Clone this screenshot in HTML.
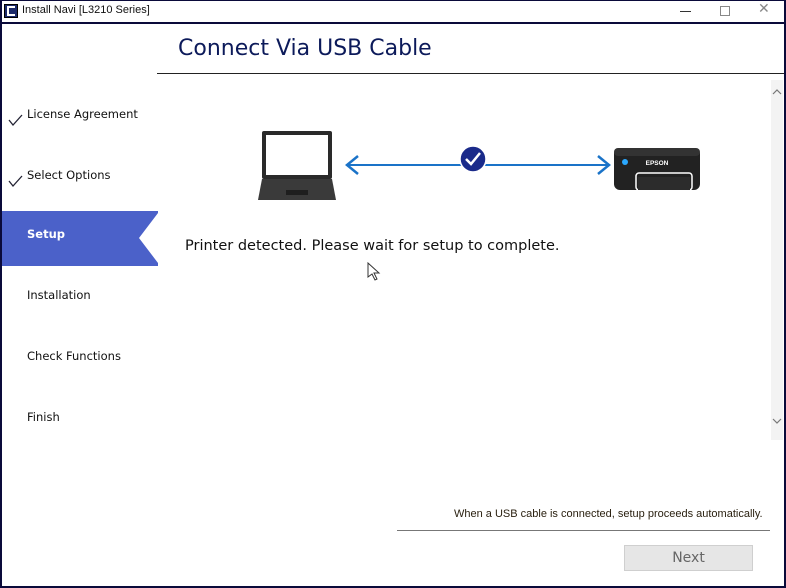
<!DOCTYPE html>
<html><head><meta charset="utf-8"><style>
*{margin:0;padding:0;box-sizing:border-box}
body{width:786px;height:588px;overflow:hidden;background:#fff;font-family:"DejaVu Sans","Liberation Sans",sans-serif;position:relative}
.abs{position:absolute}
.side{font-size:11.5px;color:#111;left:27px}
</style></head><body>
<div class="abs" style="left:0;top:0;width:786px;height:588px;border:2px solid #0a0a3a;border-top:1px solid #0a0a3a"></div>
<div class="abs" style="left:4px;top:4px;width:14px;height:14px;background:#1c2a6a;border:1px solid #000"></div>
<div class="abs" style="left:7px;top:6px;width:8px;height:10px;border:2px solid #fff;border-right:none"></div>
<div class="abs" style="left:22px;top:4px;font-size:11px;color:#111;font-family:'Liberation Sans',sans-serif">Install Navi [L3210 Series]</div>
<div class="abs" style="left:680px;top:11px;width:11px;height:1px;background:#333"></div>
<div class="abs" style="left:720px;top:6px;width:10px;height:10px;border:1px solid #888"></div>
<div class="abs" style="left:758px;top:1px;font-size:14px;color:#888">✕</div>
<div class="abs" style="left:2px;top:22px;width:782px;height:2px;background:#0a0a3a"></div>
<div class="abs" style="left:178px;top:36px;font-size:22px;color:#0c1a5a">Connect Via USB Cable</div>
<div class="abs" style="left:157px;top:73px;width:627px;height:1px;background:#222"></div>
<svg class="abs" style="left:8px;top:112px" width="16" height="16"><polyline points="1,8 5,13 14,3" fill="none" stroke="#223" stroke-width="1.3"/></svg>
<div class="abs side" style="top:107px">License Agreement</div>
<svg class="abs" style="left:8px;top:173px" width="16" height="16"><polyline points="1,8 5,13 14,3" fill="none" stroke="#223" stroke-width="1.3"/></svg>
<div class="abs side" style="top:168px">Select Options</div>
<svg class="abs" style="left:2px;top:211px" width="156" height="55"><polygon points="0,0 156,0 156,2 137,27 156,52 156,55 0,55" fill="#4b61c9"/></svg>
<div class="abs side" style="top:227px;color:#fff;font-weight:bold">Setup</div>
<div class="abs side" style="top:288px">Installation</div>
<div class="abs side" style="top:349px">Check Functions</div>
<div class="abs side" style="top:410px">Finish</div>
<div class="abs" style="left:771px;top:80px;width:12px;height:360px;background:#f3f3f3"></div>
<svg class="abs" style="left:772px;top:88px" width="10" height="8"><polyline points="1,6 5,2 9,6" fill="none" stroke="#777" stroke-width="1.2"/></svg>
<svg class="abs" style="left:772px;top:417px" width="10" height="8"><polyline points="1,2 5,6 9,2" fill="none" stroke="#777" stroke-width="1.2"/></svg>
<svg class="abs" style="left:258px;top:130px" width="80" height="72">
<rect x="4" y="1" width="70" height="48" rx="2" fill="#2a2a2a"/>
<rect x="8" y="5" width="62" height="40" fill="#fff"/>
<polygon points="4,49 74,49 78,70 0,70" fill="#3a3a3a"/>
<rect x="28" y="60" width="22" height="5" fill="#1e1e1e"/>
</svg>
<svg class="abs" style="left:340px;top:140px" width="280" height="40">
<line x1="8" y1="25" x2="268" y2="25" stroke="#1a73c8" stroke-width="2"/>
<polyline points="18,16 7,25 18,34" fill="none" stroke="#1a73c8" stroke-width="2.5"/>
<polyline points="258,16 269,25 258,34" fill="none" stroke="#1a73c8" stroke-width="2.5"/>
<circle cx="133" cy="19" r="13" fill="#1a2a8a" stroke="#fff" stroke-width="1.5"/>
<polyline points="126,19 131,24 140,13" fill="none" stroke="#fff" stroke-width="2.5"/>
</svg>
<svg class="abs" style="left:612px;top:146px" width="90" height="46">
<rect x="2" y="2" width="86" height="42" rx="6" fill="#222"/>
<rect x="2" y="2" width="86" height="8" rx="4" fill="#333"/>
<circle cx="13" cy="16" r="3" fill="#2aa8ff"/>
<text x="45" y="19" font-size="6.5" fill="#fff" font-weight="bold" text-anchor="middle" font-family="Liberation Sans,sans-serif">EPSON</text>
<rect x="24" y="27" width="56" height="17" rx="3" fill="none" stroke="#fff" stroke-width="1.5"/>
<rect x="26" y="31" width="52" height="13" fill="#2c2c2c"/>
</svg>
<div class="abs" style="left:185px;top:238px;font-size:14.5px;color:#111">Printer detected. Please wait for setup to complete.</div>
<svg class="abs" style="left:367px;top:262px" width="14" height="20"><polygon points="1,1 1,15 5,12 8,18 10,17 7,11 12,11" fill="#fff" stroke="#333" stroke-width="1"/></svg>
<div class="abs" style="left:454px;top:508px;font-size:11px;color:#2a2010;font-family:'Liberation Sans',sans-serif">When a USB cable is connected, setup proceeds automatically.</div>
<div class="abs" style="left:397px;top:530px;width:373px;height:1px;background:#777"></div>
<div class="abs" style="left:624px;top:545px;width:129px;height:26px;background:#e6e6e6;border:1px solid #cfcfcf;font-size:14px;color:#666;text-align:center;line-height:24px">Next</div>
</body></html>
